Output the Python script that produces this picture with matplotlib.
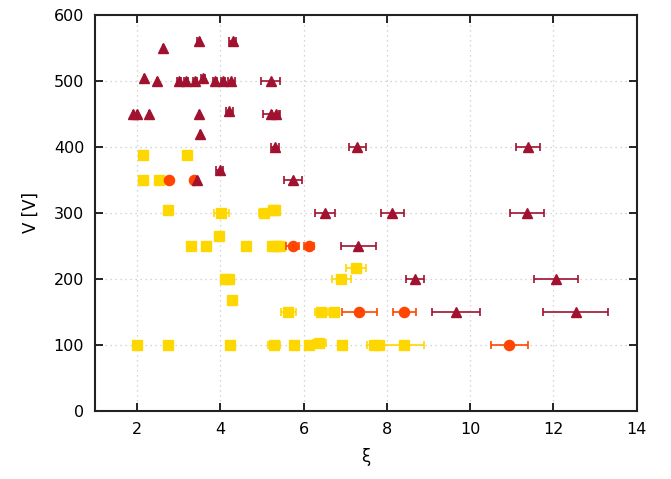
import matplotlib
matplotlib.use("Agg")
import matplotlib.pyplot as plt

# dark red triangles
tri_x = [2.62, 3.48, 4.30, 2.18, 2.49, 3.0, 3.18, 3.39, 3.59, 3.87, 4.07, 4.27, 5.21,
         1.90, 2.01, 2.30, 3.49, 4.22, 5.22, 5.34, 3.51, 5.31, 7.29, 11.38, 3.99,
         3.45, 5.74, 6.52, 8.13, 11.36, 7.31, 8.67, 12.07, 9.66, 12.53]
tri_y = [550, 560, 560, 505, 500, 500, 500, 500, 505, 500, 500, 500, 500,
         450, 450, 450, 450, 455, 450, 450, 420, 400, 400, 400, 365,
         350, 350, 300, 300, 300, 250, 200, 200, 150, 150]
tri_e = [0.0, 0.04, 0.08, 0.0, 0.0, 0.05, 0.05, 0.05, 0.05, 0.05, 0.05, 0.08, 0.22,
         0.0, 0.0, 0.0, 0.0, 0.08, 0.2, 0.1, 0.0, 0.1, 0.2, 0.29, 0.08,
         0.0, 0.22, 0.24, 0.28, 0.41, 0.42, 0.21, 0.53, 0.58, 0.78]

# orange circles
circ_x = [2.78, 3.37, 5.74, 6.13, 7.34, 8.42, 10.94]
circ_y = [350, 350, 250, 250, 150, 150, 100]
circ_e = [0.05, 0.05, 0.15, 0.12, 0.42, 0.28, 0.45]

# yellow squares
sq_x = [2.15, 3.19, 2.15, 2.54, 2.74, 4.03, 5.04, 5.26, 5.32, 3.98, 3.30, 3.67, 4.62,
        5.24, 5.35, 5.43, 7.26, 4.12, 4.20, 6.91, 4.29, 5.63, 6.42, 6.72,
        2.0, 2.74, 4.23, 5.29, 5.76, 6.14, 6.38, 6.93, 7.68, 7.80, 8.41]
sq_y = [387, 387, 350, 350, 305, 300, 300, 305, 305, 265, 250, 250, 250,
        250, 250, 250, 217, 200, 200, 200, 168, 150, 150, 150,
        100, 100, 100, 100, 100, 100, 103, 100, 100, 100, 100]
sq_e = [0.03, 0.03, 0.03, 0.03, 0.03, 0.19, 0.12, 0.05, 0.05, 0.03, 0.03, 0.03, 0.03,
        0.08, 0.08, 0.08, 0.23, 0.05, 0.05, 0.22, 0.03, 0.18, 0.15, 0.1,
        0.03, 0.03, 0.03, 0.15, 0.08, 0.1, 0.15, 0.05, 0.15, 0.1, 0.48]

fig = plt.figure(figsize=(6.71, 4.79), dpi=100)
ax = fig.add_axes([0.142, 0.142, 0.807, 0.827])

common = dict(elinewidth=1.2, capsize=3, capthick=1.2)
sets = [(sq_x, sq_y, sq_e, 's', '#ffd700', 6.8, 3),
        (circ_x, circ_y, circ_e, 'o', '#ff4500', 7.3, 4),
        (tri_x, tri_y, tri_e, '^', '#a0122f', 7.3, 5)]
for xs, ys, es, m, c, size, z in sets:
    cont = ax.errorbar(xs, ys, xerr=es, fmt=m, color=c, ms=size, mec=c,
                       ecolor=c, zorder=z, **common)
    # error bars sit under the markers
    for cl in cont[1]:
        cl.set_zorder(z - 0.5)
    for bl in cont[2]:
        bl.set_zorder(z - 0.5)

ax.set_xlim(1, 14)
ax.set_ylim(0, 600)
ax.set_xticks([2, 4, 6, 8, 10, 12, 14])
ax.set_yticks([0, 100, 200, 300, 400, 500, 600])
ax.grid(True, linestyle=(0, (1, 3)), color='#c8c8c8', linewidth=0.9)
ax.tick_params(direction='in', length=6, width=1.2, top=True, right=True,
               labelsize=11.5, pad=8)
for s in ax.spines.values():
    s.set_linewidth(1.5)
    s.set_color('#222222')

ax.set_xlabel('ξ', fontsize=12, labelpad=8)
ax.set_ylabel('V [V]', fontsize=12, labelpad=10)

fig.savefig('out.png', dpi=100)
